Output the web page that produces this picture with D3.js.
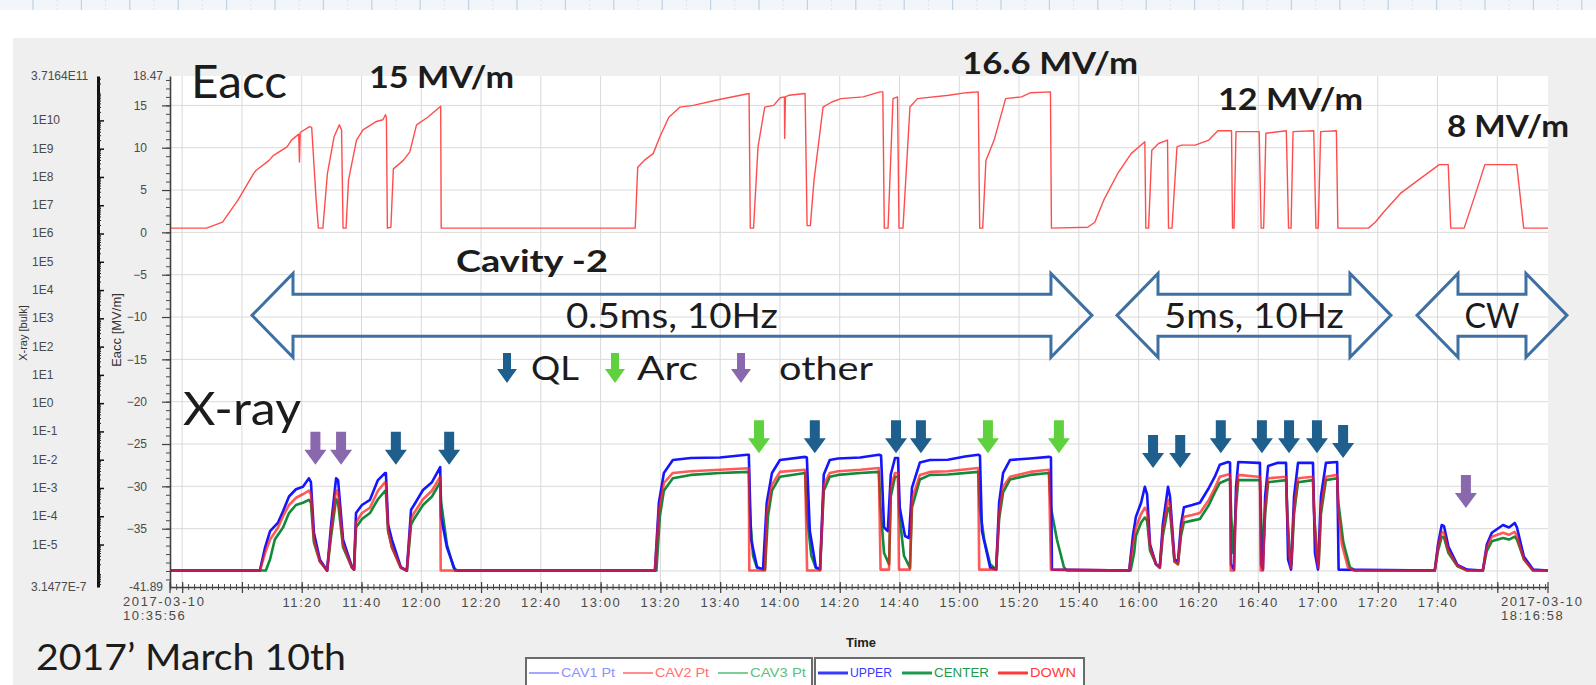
<!DOCTYPE html>
<html>
<head>
<meta charset="utf-8">
<title>Cavity -2 conditioning, 2017-03-10</title>
<script src="https://cdn.jsdelivr.net/npm/d3@7/dist/d3.min.js"></script>
<style>
  html, body { margin: 0; padding: 0; background: #ffffff; }
  svg { display: block; }
</style>
</head>
<body>
<svg id="chart" width="1596" height="685"></svg>
<script>
// ---------------- data ----------------
const day = "2017-03-10";
const timeStart = "10:35:56";
const timeEnd = "18:16:58";
const timeLabelFirst = "11:20";
const timeLabelLast = "17:40";

const eaccRange = [-41.89, 18.47];
const eaccTicks = [15, 10, 5, 0, -5, -10, -15, -20, -25, -30, -35];
const eaccGrid = [15, 10, 5, 0, -5, -10, -15, -20, -25, -30, -35, -40];
const eaccEndLabels = ["18.47", "-41.89"];

const xrayRange = [3.1477e-7, 3.7164e11];
const xrayTicks = [1e10, 1e9, 1e8, 1e7, 1e6, 1e5, 1e4, 1e3, 1e2, 1e1, 1e0, 1e-1, 1e-2, 1e-3, 1e-4, 1e-5];
const xrayTickLabels = ["1E10", "1E9", "1E8", "1E7", "1E6", "1E5", "1E4", "1E3", "1E2", "1E1", "1E0", "1E-1", "1E-2", "1E-3", "1E-4", "1E-5"];
const xrayEndLabels = ["3.7164E11", "3.1477E-7"];

// accelerating field of cavity 2 [MV/m]
const cav2Eacc = [
  ["10:35:56",0.5],["10:48:10",0.5],["10:53:30",1.2],["10:58:40",3.8],["11:03:50",6.9],["11:04:40",7.3],
  ["11:09:05",8.5],["11:10:35",9.1],["11:15:05",10.1],["11:16:35",10.9],["11:19:00",11.6],["11:19:15",8.3],
  ["11:19:30",11.8],["11:22:35",12.5],["11:23:20",12.4],["11:24:50",3.8],["11:25:35",0.5],["11:27:05",0.5],
  ["11:28:35",6.9],["11:30:50",11.3],["11:32:35",12.7],["11:33:20",12.1],["11:33:50",0.5],["11:34:50",0.5],
  ["11:35:40",6.2],["11:38:20",10.9],["11:40:30",12.1],["11:45:00",13.1],["11:47:10",13.3],["11:48:00",13.9],
  ["11:48:20",13.6],["11:48:40",0.5],["11:49:50",0.6],["11:50:40",7.5],["11:54:00",8.5],["11:56:10",9.5],
  ["11:58:25",12.7],["12:02:10",13.6],["12:06:30",14.9],["12:06:40",0.5],
  ["13:11:35",0.5],["13:12:25",7.7],["13:14:35",8.5],["13:17:35",9.3],["13:19:50",11.3],["13:22:50",13.6],
  ["13:26:35",14.8],["13:31:00",15.0],["13:38:30",15.6],["13:49:40",16.4],["13:50:05",0.5],["13:51:10",0.5],
  ["13:52:40",10.1],["13:54:55",14.8],["13:57:55",15.0],["14:00:05",15.9],["14:01:30",16.0],["14:01:35",11.1],
  ["14:01:50",16.0],["14:03:05",16.2],["14:08:25",16.4],["14:09:05",0.8],["14:10:10",0.8],["14:11:25",6.2],
  ["14:14:25",14.8],["14:17:20",15.4],["14:20:25",15.8],["14:27:50",16.0],["14:33:30",16.6],["14:34:25",16.6],
  ["14:34:55",0.5],["14:36:10",0.5],["14:37:50",15.8],["14:39:20",16.0],["14:39:50",0.5],["14:41:10",0.5],
  ["14:43:30",14.8],["14:46:00",15.8],["14:56:30",16.2],["15:02:25",16.5],["15:06:20",16.6],["15:06:50",0.5],
  ["15:07:50",0.5],["15:08:55",8.5],["15:11:40",10.9],["15:15:30",15.8],["15:20:50",16.0],["15:23:55",16.5],
  ["15:30:30",16.6],["15:30:50",0.5],
  ["15:43:00",0.6],["15:45:20",1.2],["15:48:20",3.8],["15:52:55",6.9],["15:57:30",9.3],["16:02:05",10.7],
  ["16:02:25",0.5],["16:03:20",0.5],["16:04:25",9.7],["16:06:40",10.5],["16:09:40",10.9],["16:10:00",0.5],
  ["16:11:10",0.5],["16:12:50",10.1],["16:14:20",10.3],["16:18:55",10.3],["16:23:30",10.9],["16:26:30",12.0],
  ["16:31:05",12.0],["16:31:25",0.5],["16:31:55",0.5],["16:32:35",11.9],["16:40:20",11.9],["16:41:00",0.5],
  ["16:41:50",0.5],["16:42:35",11.7],["16:49:25",12.0],["16:50:10",0.5],["16:51:00",0.5],["16:51:40",11.9],
  ["16:58:35",12.0],["16:59:20",0.5],["17:00:05",0.5],["17:00:55",11.9],["17:06:10",12.0],["17:06:40",0.5],
  ["17:16:55",0.5],["17:19:10",1.2],["17:21:30",2.2],["17:27:35",4.6],["17:33:40",6.2],["17:40:35",8.0],
  ["17:43:35",8.0],["17:44:25",0.5],["17:48:55",0.5],["17:53:30",5.4],["17:55:50",8.0],["18:01:55",8.0],
  ["18:06:30",8.0],["18:08:50",0.5],["18:16:58",0.5]
];

// X-ray dose rate, upper detector
const xrayUpper = [
  ["10:35:56",1.2e-6],["11:06:00",1.2e-6],["11:07:45",8e-6],["11:09:25",3e-5],["11:12:05",6e-5],["11:13:45",1.5e-4],
  ["11:15:45",5e-4],["11:18:05",9e-4],["11:20:25",1.1e-3],["11:22:25",2.2e-3],["11:23:05",1.6e-3],["11:24:05",2.6e-5],
  ["11:26:05",2.9e-6],["11:28:30",1.2e-6],["11:29:50",5e-5],["11:31:30",2.2e-3],["11:32:10",1.9e-3],["11:33:50",1.5e-5],
  ["11:36:50",1.6e-6],["11:37:30",1.3e-6],["11:38:10",1.3e-4],["11:40:10",2.5e-4],["11:42:50",3.8e-4],["11:45:30",1.9e-3],
  ["11:47:55",3.4e-3],["11:48:10",3.4e-3],["11:48:55",5e-5],["11:50:10",1.5e-5],["11:53:10",1.6e-6],["11:55:10",1.2e-6],
  ["11:56:35",1.7e-4],["11:57:35",2.5e-4],["12:00:35",8.5e-4],["12:03:35",1.6e-3],["12:06:20",5.5e-3],["12:06:35",1e-4],
  ["12:08:35",8e-6],["12:11:20",1.2e-6],
  ["13:18:10",1.2e-6],["13:19:30",3e-4],["13:21:10",3.4e-3],["13:24:10",9.8e-3],["13:30:10",1.15e-2],["13:39:55",1.2e-2],
  ["13:49:00",1.5e-2],["13:49:35",1.5e-2],["13:50:20",1.5e-5],["13:52:20",1.6e-6],["13:54:20",1.3e-6],["13:55:35",3e-4],
  ["13:57:20",3.4e-3],["14:00:00",9.8e-3],["14:08:25",1.26e-2],["14:09:00",1.2e-2],["14:10:00",3e-5],["14:12:00",1.6e-6],
  ["14:13:25",1.3e-6],["14:14:40",3e-3],["14:16:40",9.8e-3],["14:19:25",1.1e-2],["14:26:50",1.2e-2],["14:33:05",1.5e-2],
  ["14:33:50",1.4e-2],["14:34:50",4e-5],["14:36:05",3e-5],["14:37:05",3e-3],["14:38:30",1.15e-2],["14:39:30",1.15e-2],
  ["14:40:05",2e-4],["14:41:50",2e-5],["14:43:10",1.7e-5],["14:44:10",1e-3],["14:46:50",8e-3],["14:50:10",9.8e-3],
  ["14:56:10",1e-2],["15:01:55",1.3e-2],["15:06:20",1.5e-2],["15:06:55",1.4e-2],["15:07:35",3e-5],["15:10:20",1.5e-6],
  ["15:12:20",1.3e-6],["15:13:20",3e-4],["15:14:40",3.4e-3],["15:17:00",9.8e-3],["15:23:40",1.1e-2],["15:30:00",1.26e-2],
  ["15:30:40",1.2e-2],["15:31:00",1.3e-6],
  ["15:56:50",1.2e-6],["15:58:05",2e-5],["15:59:05",9.5e-5],["16:00:50",3e-4],["16:02:05",1.1e-3],["16:02:50",6e-4],
  ["16:03:50",1e-5],["16:05:50",2e-6],["16:07:05",1.6e-6],["16:08:05",5e-5],["16:09:50",1.1e-3],["16:10:30",5e-4],
  ["16:12:00",3e-6],["16:13:10",2.5e-6],["16:14:10",5e-5],["16:15:10",2.1e-4],["16:17:55",2.5e-4],["16:20:30",3e-4],
  ["16:23:30",1e-3],["16:25:30",2.5e-3],["16:27:10",6.6e-3],["16:29:55",8.3e-3],["16:30:35",8e-3],["16:30:55",2e-6],
  ["16:31:55",1.3e-6],["16:32:35",1e-3],["16:33:20",8.3e-3],["16:40:00",7.7e-3],["16:40:35",7.7e-3],["16:41:00",2e-6],
  ["16:41:35",1.3e-6],["16:42:20",5e-4],["16:43:20",6e-3],["16:46:20",7.7e-3],["16:49:20",7.7e-3],["16:50:00",3e-6],
  ["16:51:00",1.3e-6],["16:52:00",5e-4],["16:53:20",7.7e-3],["16:58:20",7.7e-3],["16:59:00",5e-6],["17:00:00",1.3e-6],
  ["17:01:00",5e-4],["17:02:40",7.7e-3],["17:06:25",8.3e-3],["17:06:55",1.3e-6],
  ["17:39:05",1.2e-6],["17:40:10",1e-5],["17:41:25",4.9e-5],["17:42:10",4.5e-5],["17:43:40",8.3e-6],["17:46:40",1.9e-6],
  ["17:49:55",1.3e-6],["17:55:10",1.2e-6],["17:56:30",1e-5],["17:58:10",2.6e-5],["18:01:55",4.9e-5],["18:03:55",4e-5],
  ["18:05:50",5.8e-5],["18:06:35",4e-5],["18:08:55",3.7e-6],["18:12:00",1.3e-6],["18:16:58",1.2e-6]
];

// X-ray dose rate, center detector
const xrayCenter = [
  ["10:35:56",1.2e-6],["11:08:00",1.2e-6],["11:09:25",3e-6],["11:11:00",1.5e-5],["11:13:45",4e-5],["11:15:45",1.3e-4],
  ["11:18:05",2.5e-4],["11:20:25",3e-4],["11:22:25",3.8e-4],["11:23:05",3e-4],["11:24:05",1.2e-5],["11:26:05",2.5e-6],
  ["11:28:30",1.2e-6],["11:29:50",2e-5],["11:31:30",4e-4],["11:32:10",3e-4],["11:33:50",8e-6],["11:36:50",1.5e-6],
  ["11:37:30",1.3e-6],["11:38:10",4e-5],["11:40:10",8e-5],["11:42:50",1.3e-4],["11:45:30",4e-4],["11:47:55",8e-4],
  ["11:48:10",7e-4],["11:48:55",3e-5],["11:50:10",8e-6],["11:53:10",1.5e-6],["11:55:10",1.2e-6],["11:56:35",5e-5],
  ["11:57:35",8e-5],["12:00:35",2.5e-4],["12:03:35",5e-4],["12:06:20",1.6e-3],["12:06:40",3e-4],["12:08:35",1e-5],
  ["12:10:50",1.5e-6],["12:12:00",1.2e-6],
  ["13:18:40",1.2e-6],["13:19:50",1e-4],["13:21:10",8e-4],["13:24:10",2.2e-3],["13:30:10",2.9e-3],["13:39:55",3.4e-3],
  ["13:49:35",3.7e-3],["13:50:00",1e-4],["13:51:00",4e-6],["13:52:20",1.5e-6],["13:55:00",1.3e-6],["13:56:00",1e-4],
  ["13:57:20",8e-4],["14:00:00",2.5e-3],["14:08:25",3.4e-3],["14:09:05",1e-4],["14:10:30",4e-6],["14:12:00",1.5e-6],
  ["14:13:25",1.3e-6],["14:14:40",8e-4],["14:16:40",2.5e-3],["14:19:25",2.9e-3],["14:26:50",3.4e-3],["14:33:05",3.7e-3],
  ["14:33:40",2e-4],["14:34:50",5e-6],["14:36:30",2e-6],["14:37:05",5e-4],["14:38:30",2.5e-3],["14:39:30",2.5e-3],
  ["14:40:00",1e-4],["14:41:30",4e-6],["14:43:30",1.5e-6],["14:44:10",2e-4],["14:46:50",2e-3],["14:50:10",2.9e-3],
  ["14:56:10",3e-3],["15:06:20",3.7e-3],["15:06:50",2e-4],["15:08:20",1.5e-5],["15:10:20",2e-6],["15:12:20",1.3e-6],
  ["15:13:20",8e-5],["15:14:40",7e-4],["15:17:00",2e-3],["15:23:40",2.9e-3],["15:30:00",3.4e-3],["15:30:40",2e-4],
  ["15:32:40",1.5e-5],["15:35:00",1.6e-6],["15:36:00",1.2e-6],
  ["15:57:20",1.2e-6],["15:58:30",5e-6],["15:59:05",2e-5],["16:00:50",6e-5],["16:02:05",9e-5],["16:02:50",7e-5],
  ["16:03:50",6e-6],["16:05:50",2e-6],["16:07:05",1.5e-6],["16:08:05",2e-5],["16:09:50",2e-4],["16:10:30",1.5e-4],
  ["16:12:00",2.5e-6],["16:13:10",2e-6],["16:14:10",2e-5],["16:15:10",6e-5],["16:17:55",7e-5],["16:20:30",8e-5],
  ["16:23:30",2.5e-4],["16:25:30",7e-4],["16:27:10",1.5e-3],["16:29:55",2e-3],["16:30:35",2e-3],["16:31:00",1e-4],
  ["16:31:40",5e-6],["16:32:35",2e-4],["16:33:20",1.9e-3],["16:40:00",1.9e-3],["16:40:35",1.9e-3],["16:41:00",8e-5],
  ["16:41:40",4e-6],["16:42:20",1.2e-4],["16:43:20",1.6e-3],["16:49:20",1.9e-3],["16:49:50",8e-5],["16:50:40",4e-6],
  ["16:51:10",2e-6],["16:52:00",1.2e-4],["16:53:20",1.6e-3],["16:58:20",1.9e-3],["16:58:50",8e-5],["16:59:40",4e-6],
  ["17:00:15",2e-6],["17:01:00",1.2e-4],["17:02:40",1.9e-3],["17:06:25",2.2e-3],["17:06:50",3e-4],["17:08:30",1.2e-5],
  ["17:10:40",1.6e-6],["17:12:30",1.2e-6],
  ["17:39:05",1.2e-6],["17:40:10",6e-6],["17:41:25",1.9e-5],["17:42:10",1.8e-5],["17:43:40",5e-6],["17:46:40",1.7e-6],
  ["17:49:55",1.2e-6],["17:55:10",1.2e-6],["17:56:30",6e-6],["17:58:10",1.3e-5],["18:01:55",1.7e-5],["18:03:55",1.5e-5],
  ["18:05:50",1.9e-5],["18:06:35",1.5e-5],["18:08:55",3e-6],["18:12:00",1.2e-6],["18:16:58",1.2e-6]
];

// X-ray dose rate, lower detector
const xrayDown = [
  ["10:35:56",1.2e-6],["11:06:00",1.2e-6],["11:07:45",5e-6],["11:09:25",1.5e-5],["11:12:05",4e-5],["11:13:45",1e-4],
  ["11:15:45",2.5e-4],["11:18:05",4.5e-4],["11:20:25",6e-4],["11:22:25",8e-4],["11:23:05",6e-4],["11:24:05",1.5e-5],
  ["11:26:05",2.5e-6],["11:28:30",1.2e-6],["11:29:50",3e-5],["11:31:30",8.5e-4],["11:32:10",7e-4],["11:33:50",1e-5],
  ["11:36:50",1.5e-6],["11:37:30",1.3e-6],["11:38:10",6e-5],["11:40:10",1.3e-4],["11:42:50",2e-4],["11:45:30",8e-4],
  ["11:47:55",1.6e-3],["11:48:10",1.5e-3],["11:48:55",3e-5],["11:50:10",8e-6],["11:53:10",1.5e-6],["11:55:10",1.2e-6],
  ["11:56:35",8e-5],["11:57:35",1.3e-4],["12:00:35",4e-4],["12:03:35",8e-4],["12:06:20",2.5e-3],["12:06:30",1.2e-6],
  ["13:18:10",1.2e-6],["13:19:30",1.5e-4],["13:21:10",1.5e-3],["13:24:10",3.4e-3],["13:30:10",3.9e-3],["13:39:55",4.4e-3],
  ["13:49:35",5e-3],["13:49:45",1.2e-6],["13:55:00",1.2e-6],["13:55:35",1.3e-4],["13:57:20",1.3e-3],["14:00:00",3.7e-3],
  ["14:08:25",4.4e-3],["14:09:05",1.2e-6],["14:13:25",1.2e-6],["14:14:40",1.3e-3],["14:16:40",3.4e-3],["14:19:25",3.9e-3],
  ["14:26:50",4.4e-3],["14:33:05",5.1e-3],["14:33:40",1.3e-6],["14:36:30",1.3e-6],["14:37:05",1e-3],["14:38:30",3.4e-3],
  ["14:39:30",3.4e-3],["14:39:50",1.3e-6],["14:43:30",1.3e-6],["14:44:10",4e-4],["14:46:50",2.9e-3],["14:50:10",3.7e-3],
  ["14:56:10",3.9e-3],["15:06:20",5.1e-3],["15:06:40",1.3e-6],["15:12:20",1.3e-6],["15:13:20",1.2e-4],["15:14:40",1.1e-3],
  ["15:17:00",2.5e-3],["15:23:40",3.7e-3],["15:30:00",4.4e-3],["15:30:40",1.3e-6],
  ["15:56:50",1.2e-6],["15:58:05",1e-5],["15:59:05",4e-5],["16:00:50",1.2e-4],["16:02:05",2e-4],["16:02:50",1.5e-4],
  ["16:03:50",8e-6],["16:05:50",2e-6],["16:07:05",1.5e-6],["16:08:05",3e-5],["16:09:50",3.8e-4],["16:10:30",2.5e-4],
  ["16:12:00",2.5e-6],["16:13:10",2e-6],["16:14:10",3e-5],["16:15:10",9.5e-5],["16:17:55",1.1e-4],["16:20:30",1.3e-4],
  ["16:23:30",3.8e-4],["16:25:30",1e-3],["16:27:10",2.5e-3],["16:29:55",3e-3],["16:30:35",3e-3],["16:30:50",1.2e-6],
  ["16:31:55",1.2e-6],["16:32:35",4e-4],["16:33:20",2.9e-3],["16:40:00",2.5e-3],["16:40:35",2.5e-3],["16:40:50",1.2e-6],
  ["16:41:35",1.2e-6],["16:42:20",2e-4],["16:43:20",2.2e-3],["16:49:20",2.5e-3],["16:49:40",1.5e-4],["16:50:20",5e-6],
  ["16:51:00",1.5e-6],["16:52:00",2e-4],["16:53:20",2.2e-3],["16:58:20",2.5e-3],["16:58:40",1.5e-4],["16:59:30",5e-6],
  ["17:00:10",1.5e-6],["17:01:00",2e-4],["17:02:40",2.5e-3],["17:06:25",2.9e-3],["17:06:45",2e-4],["17:08:00",1e-5],
  ["17:10:00",1.6e-6],["17:12:00",1.2e-6],
  ["17:39:05",1.2e-6],["17:40:10",8e-6],["17:41:25",2.8e-5],["17:42:10",2.6e-5],["17:43:40",6e-6],["17:46:40",1.8e-6],
  ["17:49:55",1.2e-6],["17:55:10",1.2e-6],["17:56:30",8e-6],["17:58:10",1.9e-5],["18:01:55",2.6e-5],["18:03:55",2.2e-5],
  ["18:05:50",2.8e-5],["18:06:35",2e-5],["18:08:55",3e-6],["18:12:00",1.2e-6],["18:16:58",1.2e-6]
];

// event markers: [time, X-ray level at the arrow tip]
const qlEvents = [
  ["11:51:30",6.6e-3],["12:09:20",6.6e-3],["14:11:40",1.7e-2],["14:38:50",1.7e-2],["14:47:10",1.7e-2],
  ["16:04:50",5.1e-3],["16:13:55",5.1e-3],["16:27:30",1.7e-2],["16:41:15",1.7e-2],["16:50:20",1.7e-2],
  ["16:59:40",1.7e-2],["17:08:25",1.15e-2]
];
const arcEvents = [["13:53:00",1.7e-2],["15:09:35",1.7e-2],["15:33:20",1.7e-2]];
const otherEvents = [["11:24:35",6.6e-3],["11:33:10",6.6e-3],["17:49:30",1.95e-4]];

// operating modes (span of each double arrow)
const modeStart = ["11:03:22", "15:52:46", "17:33:08"];
const modeEnd = ["15:44:23", "17:24:26", "18:23:19"];
const modeLabels = ["0.5ms, 10Hz", "5ms, 10Hz", "CW"];
const modeLevel = -9.8;

// ---------------- layout ----------------
const W = 1596, H = 685;
const plot = { left: 170, right: 1548, top: 76, bottom: 587 };
const C = {
  eacc: "#ff4d4d", cav1: "#8f8fff", cav3: "#5cbf80",
  upper: "#1515ff", center: "#118a3a", down: "#ff1a1a",
  ql: "#1f5f8e", arc: "#5fd13e", other: "#8a68ad", mode: "#3f70a2",
  grid: "#dadada", axis: "#404040", tick: "#4a4a4a", text: "#1c1c1c"
};
const sansFont = '"Liberation Sans", Arial, sans-serif';
const noteFont = 'Lato, "Open Sans", sans-serif';

const parseT = d3.timeParse("%Y-%m-%d %H:%M:%S");
const T = s => parseT(`${day} ${s}`);

const x = d3.scaleTime().domain([T(timeStart), T(timeEnd)]).range([plot.left, plot.right]);
const yE = d3.scaleLinear().domain(eaccRange).range([plot.bottom, plot.top]);
const yX = d3.scaleLog().domain(xrayRange).range([plot.bottom, plot.top]);

const svg = d3.select("#chart");

// page background and ruler strip along the top
svg.append("rect").attr("width", W).attr("height", H).attr("fill", "#ffffff");
svg.append("rect").attr("x", 0).attr("y", 0).attr("width", W).attr("height", 10).attr("fill", "#f2f5f9");
const ruler = svg.append("g");
for (let rx = 33; rx < W; rx += 48.4) {
  ruler.append("line").attr("x1", rx).attr("x2", rx).attr("y1", 0).attr("y2", 10)
    .attr("stroke", "#bfd2e6").attr("stroke-width", 1.2);
  ruler.append("line").attr("x1", rx + 24.2).attr("x2", rx + 24.2).attr("y1", 0).attr("y2", 10)
    .attr("stroke", "#dbe6f1").attr("stroke-width", 1).attr("stroke-dasharray", "2,2");
}

// chart panel
svg.append("rect").attr("x", 13).attr("y", 38).attr("width", W - 13).attr("height", H - 38).attr("fill", "#efefef");
svg.append("rect").attr("x", plot.left + 1).attr("y", plot.top)
  .attr("width", plot.right - plot.left - 1).attr("height", plot.bottom - plot.top).attr("fill", "#ffffff");

// grid
const majorTimes = d3.timeMinute.every(20).range(x.domain()[0], x.domain()[1]);
const minorTimes = d3.timeMinute.every(2).range(x.domain()[0], x.domain()[1]);
const grid = svg.append("g");
grid.selectAll("line.v").data(majorTimes).join("line")
  .attr("x1", d => x(d)).attr("x2", d => x(d)).attr("y1", plot.top).attr("y2", plot.bottom)
  .attr("stroke", C.grid).attr("stroke-width", 1);
grid.selectAll("line.h").data(eaccGrid).join("line")
  .attr("x1", plot.left).attr("x2", plot.right).attr("y1", d => yE(d)).attr("y2", d => yE(d))
  .attr("stroke", C.grid).attr("stroke-width", 1);

// clip for data lines
svg.append("clipPath").attr("id", "plotClip").append("rect")
  .attr("x", plot.left).attr("y", plot.top).attr("width", plot.right - plot.left).attr("height", plot.bottom - plot.top);

const lineE = d3.line().x(d => x(T(d[0]))).y(d => yE(d[1]));
const lineX = d3.line().x(d => x(T(d[0]))).y(d => yX(d[1]));
const data = svg.append("g").attr("clip-path", "url(#plotClip)");

// X-ray traces
data.append("path").attr("d", lineX(xrayCenter)).attr("fill", "none")
  .attr("stroke", C.center).attr("stroke-width", 2.6).attr("stroke-linejoin", "round");
data.append("path").attr("d", lineX(xrayUpper)).attr("fill", "none")
  .attr("stroke", C.upper).attr("stroke-width", 2.6).attr("stroke-linejoin", "round");
data.append("path").attr("d", lineX(xrayDown)).attr("fill", "none")
  .attr("stroke", C.down).attr("stroke-width", 2.6).attr("stroke-opacity", 0.72).attr("stroke-linejoin", "round");

// Eacc trace of the powered cavity
data.append("path").attr("d", lineE(cav2Eacc)).attr("fill", "none")
  .attr("stroke", C.eacc).attr("stroke-width", 1.4).attr("stroke-linejoin", "round");

// ---------------- axes ----------------
// time axis
const gxMinor = svg.append("g").attr("transform", `translate(0,${plot.bottom})`)
  .call(d3.axisBottom(x).tickValues(minorTimes).tickSize(3).tickSizeOuter(0).tickFormat(""));
gxMinor.select(".domain").attr("stroke", C.axis).attr("stroke-width", 1.6);
gxMinor.selectAll(".tick line").attr("y1", -3).attr("stroke", C.tick);

const fmtHM = d3.timeFormat("%H:%M");
const labelFrom = T(timeLabelFirst + ":00"), labelTo = T(timeLabelLast + ":00");
const gxMajor = svg.append("g").attr("transform", `translate(0,${plot.bottom})`)
  .call(d3.axisBottom(x).tickValues(majorTimes).tickSize(6).tickSizeOuter(0).tickPadding(5)
    .tickFormat(d => (d >= labelFrom && d <= labelTo) ? fmtHM(d) : ""));
gxMajor.select(".domain").remove();
gxMajor.selectAll(".tick line").attr("y1", -5).attr("stroke", C.axis).attr("stroke-width", 1.2);
gxMajor.selectAll(".tick text").attr("fill", C.tick)
  .style("font-family", sansFont).style("font-size", "13px").style("letter-spacing", "1.6px");

// end-of-range time stamps
const fmtDay = d3.timeFormat("%Y-%m-%d"), fmtHMS = d3.timeFormat("%H:%M:%S");
x.domain().forEach(d => {
  const t = svg.append("text").attr("x", x(d) - 47).attr("y", 606)
    .attr("fill", C.tick).style("font-family", sansFont).style("font-size", "13px").style("letter-spacing", "1.6px");
  t.append("tspan").attr("x", x(d) - 47).text(fmtDay(d));
  t.append("tspan").attr("x", x(d) - 47).attr("dy", 14).text(fmtHMS(d));
});
[plot.left, plot.right].forEach(px => {
  svg.append("line").attr("x1", px).attr("x2", px).attr("y1", plot.bottom - 5).attr("y2", plot.bottom + 6)
    .attr("stroke", C.axis).attr("stroke-width", 1.2);
});

svg.append("text").attr("x", 861).attr("y", 647).attr("text-anchor", "middle")
  .attr("fill", "#222").style("font-family", sansFont).style("font-size", "13px").style("font-weight", "bold")
  .text("Time");

// Eacc axis
const eaccMinor = d3.range(-41, 19);
const gyEminor = svg.append("g").attr("transform", `translate(${plot.left},0)`)
  .call(d3.axisLeft(yE).tickValues(eaccMinor).tickSize(4).tickSizeOuter(0).tickFormat(""));
gyEminor.select(".domain").attr("stroke", C.axis).attr("stroke-width", 1.6);
gyEminor.selectAll(".tick line").attr("stroke", C.tick);
const gyE = svg.append("g").attr("transform", `translate(${plot.left},0)`)
  .call(d3.axisLeft(yE).tickValues(eaccTicks).tickSize(8).tickSizeOuter(0).tickPadding(15).tickFormat(d3.format("d")));
gyE.select(".domain").remove();
gyE.selectAll(".tick line").attr("stroke", C.axis).attr("stroke-width", 1.2);
gyE.selectAll(".tick text").attr("fill", C.tick).style("font-family", sansFont).style("font-size", "12px");
eaccEndLabels.forEach((s, i) => {
  svg.append("text").attr("x", 163).attr("y", yE(eaccRange[1 - i]) + 4).attr("text-anchor", "end")
    .attr("fill", C.tick).style("font-family", sansFont).style("font-size", "12px").text(s);
});
svg.append("text").attr("transform", `translate(121,330) rotate(-90)`).attr("text-anchor", "middle")
  .attr("fill", "#333").style("font-family", sansFont).style("font-size", "13px").text("Eacc [MV/m]");

// X-ray axis (log)
const xrayAxisX = 98;
const xrayMinor = [];
for (let e = -7; e <= 11; e++) for (let m = 2; m <= 9; m++) {
  const v = m * Math.pow(10, e);
  if (v > xrayRange[0] && v < xrayRange[1]) xrayMinor.push(v);
}
const gyXminor = svg.append("g").attr("transform", `translate(${xrayAxisX},0)`)
  .call(d3.axisRight(yX).tickValues(xrayMinor).tickSize(3).tickSizeOuter(0).tickFormat(""));
gyXminor.select(".domain").attr("stroke", "#111").attr("stroke-width", 3);
gyXminor.selectAll(".tick line").attr("stroke", "#222");
const gyX = svg.append("g").attr("transform", `translate(${xrayAxisX},0)`)
  .call(d3.axisRight(yX).tickValues(xrayTicks).tickSize(6).tickSizeOuter(0).tickFormat(""));
gyX.select(".domain").remove();
gyX.selectAll(".tick line").attr("stroke", "#111").attr("stroke-width", 1.5);
xrayTicks.forEach((v, i) => {
  svg.append("text").attr("x", 32).attr("y", yX(v) + 4)
    .attr("fill", C.tick).style("font-family", sansFont).style("font-size", "12px").text(xrayTickLabels[i]);
});
xrayEndLabels.forEach((s, i) => {
  svg.append("text").attr("x", 31).attr("y", yX(xrayRange[1 - i]) + 4)
    .attr("fill", C.tick).style("font-family", sansFont).style("font-size", "12px").text(s);
});
svg.append("text").attr("transform", `translate(27,333) rotate(-90)`).attr("text-anchor", "middle")
  .attr("fill", "#333").style("font-family", sansFont).style("font-size", "11px").text("X-ray [bulk]");

// ---------------- annotations ----------------
// operating-mode double arrows
const hl = 41, hh = 42, sh = 21;
const modes = svg.append("g");
modeLabels.forEach((lab, i) => {
  const lx = x(T(modeStart[i])), rx = x(T(modeEnd[i])), cy = yE(modeLevel);
  const p = `M${lx},${cy} L${lx + hl},${cy - hh} L${lx + hl},${cy - sh} L${rx - hl},${cy - sh} L${rx - hl},${cy - hh}
    L${rx},${cy} L${rx - hl},${cy + hh} L${rx - hl},${cy + sh} L${lx + hl},${cy + sh} L${lx + hl},${cy + hh} Z`;
  modes.append("path").attr("d", p).attr("fill", "none").attr("stroke", C.mode).attr("stroke-width", 3)
    .attr("stroke-linejoin", "miter");
  modes.append("text").attr("x", (lx + rx) / 2).attr("y", cy + 13).attr("text-anchor", "middle")
    .attr("fill", C.text).style("font-family", noteFont).style("font-size", "34px")
    .attr("textLength", [212, 180, 55][i]).attr("lengthAdjust", "spacingAndGlyphs").text(lab);
});

// event arrows
const arrowPath = "M-5,-33 L5,-33 L5,-15 L11,-15 L0,0 L-11,-15 L-5,-15 Z";
const events = svg.append("g");
[[qlEvents, C.ql], [arcEvents, C.arc], [otherEvents, C.other]].forEach(([list, col]) => {
  events.selectAll(null).data(list).join("path")
    .attr("d", arrowPath).attr("fill", col)
    .attr("transform", d => `translate(${x(T(d[0]))},${yX(d[1])})`);
});

// event key
const keyItems = [
  { col: C.ql, ax: 507, label: "QL", tx: 531, len: 48 },
  { col: C.arc, ax: 615, label: "Arc", tx: 637, len: 61 },
  { col: C.other, ax: 741, label: "other", tx: 779, len: 94 }
];
keyItems.forEach(k => {
  svg.append("path").attr("d", "M-4,-30 L4,-30 L4,-14 L10,-14 L0,0 L-10,-14 L-4,-14 Z")
    .attr("fill", k.col).attr("transform", `translate(${k.ax},383)`);
  svg.append("text").attr("x", k.tx).attr("y", 380).attr("fill", C.text)
    .style("font-family", noteFont).style("font-size", "32px")
    .attr("textLength", k.len).attr("lengthAdjust", "spacingAndGlyphs").text(k.label);
});

// text notes
const notes = [
  { text: "Eacc", x: 191, y: 98, size: 46, weight: 400, len: 96 },
  { text: "X-ray", x: 183, y: 425, size: 46, weight: 400, len: 118 },
  { text: "15 MV/m", x: 369, y: 88, size: 30, weight: 700, len: 145 },
  { text: "16.6 MV/m", x: 962, y: 74, size: 30, weight: 700, len: 176 },
  { text: "12 MV/m", x: 1218, y: 110, size: 30, weight: 700, len: 145 },
  { text: "8 MV/m", x: 1447, y: 137, size: 30, weight: 700, len: 122 },
  { text: "Cavity -2", x: 456, y: 272, size: 31, weight: 700, len: 152 },
  { text: "2017\u2019 March 10th", x: 36, y: 670, size: 36, weight: 400, len: 310 }
];
notes.forEach(n => {
  svg.append("text").attr("x", n.x).attr("y", n.y).attr("fill", C.text)
    .style("font-family", noteFont).style("font-size", n.size + "px").style("font-weight", n.weight)
    .attr("textLength", n.len).attr("lengthAdjust", "spacingAndGlyphs").text(n.text);
});

// ---------------- legend ----------------
const legendBoxes = [
  [
    { name: "CAV1 Pt", col: C.cav1, w: 1.6, x: 529, len: 54 },
    { name: "CAV2 Pt", col: "#ff7070", w: 1.6, x: 623, len: 54 },
    { name: "CAV3 Pt", col: C.cav3, w: 1.6, x: 718, len: 56 }
  ],
  [
    { name: "UPPER", col: "#3a3aff", w: 3, x: 818, len: 42 },
    { name: "CENTER", col: "#1e9a4c", w: 3, x: 902, len: 55 },
    { name: "DOWN", col: "#ff3a3a", w: 3, x: 998, len: 46 }
  ]
];
const boxX = [[526, 812], [815, 1084]];
legendBoxes.forEach((items, b) => {
  svg.append("rect").attr("x", boxX[b][0]).attr("y", 658).attr("width", boxX[b][1] - boxX[b][0]).attr("height", 40)
    .attr("fill", "#ffffff").attr("stroke", "#6a6a6a").attr("stroke-width", 2);
  items.forEach(it => {
    svg.append("line").attr("x1", it.x).attr("x2", it.x + 30).attr("y1", 673).attr("y2", 673)
      .attr("stroke", it.col).attr("stroke-width", it.w);
    svg.append("text").attr("x", it.x + 32).attr("y", 677).attr("fill", it.col)
      .style("font-family", sansFont).style("font-size", "12px")
      .attr("textLength", it.len).attr("lengthAdjust", "spacingAndGlyphs").text(it.name);
  });
});
</script>
</body>
</html>
